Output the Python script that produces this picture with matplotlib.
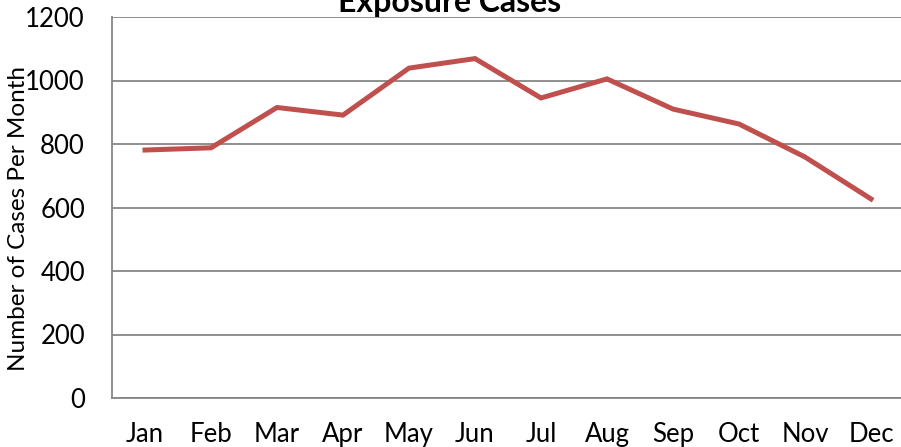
import numpy as np
import matplotlib.pyplot as plt

# Data
months = ["Jan", "Feb", "Mar", "Apr", "May", "Jun",
          "Jul", "Aug", "Sep", "Oct", "Nov", "Dec"]
cases = [781, 788, 915, 891, 1039, 1069, 945, 1005, 910, 863, 759, 627]
yticks = [0, 200, 400, 600, 800, 1000, 1200]

plt.rcParams['font.family'] = ['Lato', 'DejaVu Sans']

fig = plt.figure(figsize=(9.01, 4.47), dpi=100)
ax = fig.add_axes([112/901, 1 - 398/447, 792/901, 381/447])

x = np.arange(len(months))
ax.plot(x, cases, color="#C0504D", linewidth=3.6, solid_joinstyle="miter")

ax.set_xlim(-0.5, len(months) - 0.5)
ax.set_ylim(0, 1200)
ax.set_yticks(yticks)
ax.set_yticklabels([str(v) for v in yticks], fontsize=18.5)
ax.set_xticks(x)
ax.set_xticklabels(months, fontsize=18.5)
ax.tick_params(axis="both", length=0)
ax.tick_params(axis="y", pad=19.5)
ax.tick_params(axis="x", pad=17)

ax.grid(axis="y", color="#868686", linewidth=1.3)
ax.set_axisbelow(True)
for side in ["top", "right"]:
    ax.spines[side].set_visible(False)
for side in ["left", "bottom"]:
    ax.spines[side].set_color("#868686")
    ax.spines[side].set_linewidth(1.3)

ax.set_ylabel("Number of Cases Per Month", fontsize=17.5)
ax.yaxis.set_label_coords(-83/792, 0.47)
fig.text(450/901, 1 - 12/447, "Exposure Cases", ha="center", va="baseline",
         fontsize=23, fontweight="bold")

fig.savefig("out.png", dpi=100)
